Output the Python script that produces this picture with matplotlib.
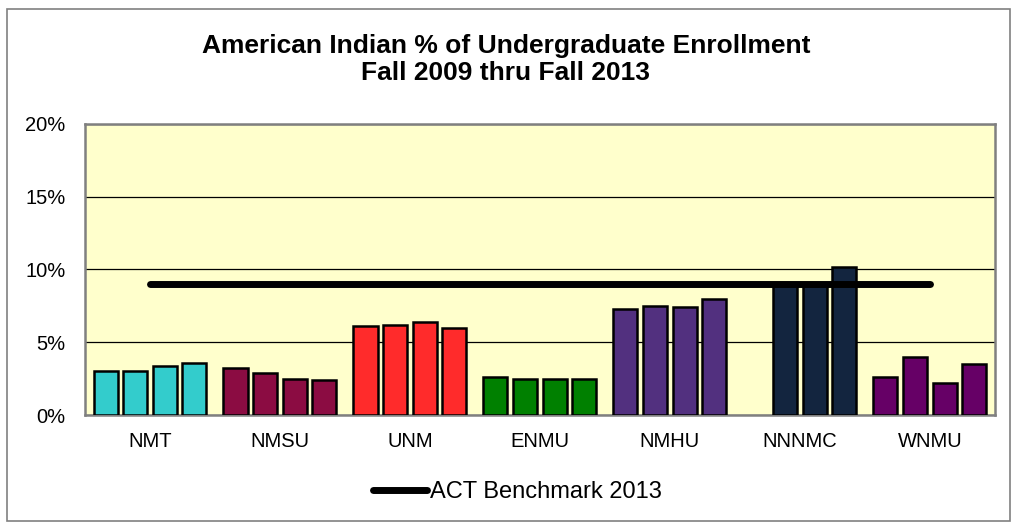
import numpy as np
import matplotlib
matplotlib.use("Agg")
import matplotlib.pyplot as plt
from matplotlib.patches import Rectangle

plt.rcParams['font.family'] = ['Liberation Sans', 'DejaVu Sans']

# data (percent), four fall terms per school; nan = no data
schools = ['NMT', 'NMSU', 'UNM', 'ENMU', 'NMHU', 'NNNMC', 'WNMU']
nmt = [3.0, 3.0, 3.4, 3.6]
nmsu = [3.2, 2.9, 2.5, 2.4]
unm = [6.1, 6.2, 6.4, 6.0]
enmu = [2.6, 2.5, 2.5, 2.5]
nmhu = [7.3, 7.5, 7.4, 8.0]
nnnmc = [np.nan, 9.0, 9.1, 10.2]
wnmu = [2.6, 4.0, 2.2, 3.5]
benchmark = 9.0
colors = ['#33CCCC', '#8B0C42', '#FF2B2B', '#008000', '#52307F', '#13253F', '#660066']

values = [nmt, nmsu, unm, enmu, nmhu, nnnmc, wnmu]

fig = plt.figure(figsize=(10.12, 5.23), dpi=100)
ax = fig.add_axes([0.084, 0.2065, 0.899, 0.5565])
ax.set_facecolor('#FFFFCC')

step = 0.228
width = 0.185
for i, (vals, c) in enumerate(zip(values, colors)):
    for j, v in enumerate(vals):
        if np.isnan(v):
            continue
        ax.bar(i + (j - 1.5) * step, v, width=width, color=c,
               edgecolor='black', linewidth=1.8, zorder=3)

ax.plot([0, len(schools) - 1], [benchmark, benchmark], color='black', lw=5,
        solid_capstyle='round', zorder=4, label='ACT Benchmark 2013')

ax.set_xlim(-0.5, len(schools) - 0.5)
ax.set_ylim(0, 20)
ax.set_yticks([0, 5, 10, 15, 20])
ax.set_yticklabels(['0%', '5%', '10%', '15%', '20%'], fontsize=14.5)
ax.set_xticks(range(len(schools)))
ax.set_xticklabels(schools, fontsize=14.5)
ax.tick_params(axis='both', length=0)
ax.tick_params(axis='y', pad=14)
ax.tick_params(axis='x', pad=12)
ax.yaxis.grid(True, color='black', lw=0.9, zorder=1)
ax.set_axisbelow(True)
for s in ax.spines.values():
    s.set_color('#808080')
    s.set_linewidth(1.8)

fig.text(0.5, 0.886, 'American Indian % of Undergraduate Enrollment\nFall 2009 thru Fall 2013',
         ha='center', va='center', fontsize=19, fontweight='bold', linespacing=1.15)

fig.legend(loc='center', bbox_to_anchor=(0.511, 0.059), frameon=False, fontsize=17,
           handlelength=2.3, handletextpad=0.1)

fig.patches.append(Rectangle((0.007, 0.004), 0.991, 0.978, transform=fig.transFigure,
                             fill=False, edgecolor='#808080', lw=1.2))

fig.savefig('out.png', dpi=100)
